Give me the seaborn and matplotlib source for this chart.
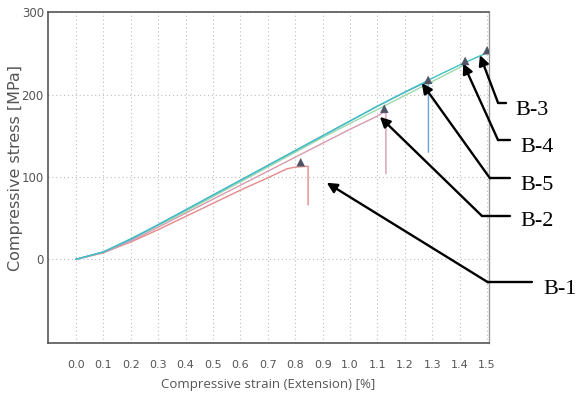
import numpy as np
import pandas as pd
import matplotlib
matplotlib.use("Agg")
import matplotlib.pyplot as plt
from matplotlib.lines import Line2D
import seaborn as sns

# ---------------- data ----------------
specimens = ["B-1", "B-2", "B-5", "B-4", "B-3"]

strain_b1 = [0.0, 0.1, 0.2, 0.3, 0.4, 0.5, 0.6, 0.7, 0.77, 0.80, 0.847, 0.847]
stress_b1 = [0, 8, 21, 36, 52, 68, 84, 99, 110, 112, 113, 66]

strain_b2 = [0.0, 0.1, 0.2, 0.3, 0.4, 0.5, 0.6, 0.7, 0.8, 0.9, 1.0, 1.1, 1.12, 1.131, 1.131]
stress_b2 = [0, 8, 22, 39, 56, 73, 90, 107, 124, 141, 158, 174, 178, 178, 104]

strain_b5 = [0.0, 0.1, 0.2, 0.3, 0.4, 0.5, 0.6, 0.7, 0.8, 0.9, 1.0, 1.1, 1.2, 1.283, 1.286, 1.286]
stress_b5 = [0, 9, 24, 42, 60, 78, 96, 114, 132, 150, 168, 186, 203, 216, 216, 130]

strain_b4 = [0.0, 0.1, 0.2, 0.3, 0.4, 0.5, 0.6, 0.7, 0.8, 0.9, 1.0, 1.1, 1.2, 1.3, 1.4, 1.42]
stress_b4 = [0, 9, 24, 41, 58, 76, 94, 112, 130, 148, 165, 182, 199, 216, 233, 237]

strain_b3 = [0.0, 0.1, 0.2, 0.3, 0.4, 0.5, 0.6, 0.7, 0.8, 0.9, 1.0, 1.1, 1.2, 1.3, 1.4, 1.5]
stress_b3 = [0, 9, 25, 42, 60, 78, 96, 114, 132, 150, 168, 186, 203, 220, 236, 251]

fail_strain = [0.82, 1.125, 1.285, 1.42, 1.50]
fail_stress = [118, 183, 218, 241, 254]

# arrow tips (data coords) for the specimen labels
tip_strain = [0.915, 1.109, 1.262, 1.413, 1.474]
tip_stress = [93, 173, 214, 238, 248]

x_ticks = [0.0, 0.1, 0.2, 0.3, 0.4, 0.5, 0.6, 0.7, 0.8, 0.9, 1.0, 1.1, 1.2, 1.3, 1.4, 1.5]
x_ticklabels = ["0.0", "0.1", "0.2", "0.3", "0.4", "0.5", "0.6", "0.7", "0.8",
                "0.9", "1.0", "1.1", "1.2", "1.3", "1.4", "1.5"]
y_ticks = [0, 100, 200, 300]
y_ticklabels = ["0", "100", "200", "300"]

# ---------------- frame ----------------
rows = []
for name, xs, ys in [("B-1", strain_b1, stress_b1), ("B-2", strain_b2, stress_b2),
                     ("B-4", strain_b4, stress_b4), ("B-5", strain_b5, stress_b5),
                     ("B-3", strain_b3, stress_b3)]:
    for i, (x, y) in enumerate(zip(xs, ys)):
        rows.append({"specimen": name, "order": i, "strain": x, "stress": y})
df = pd.DataFrame(rows)
fail_df = pd.DataFrame({"specimen": specimens, "strain": fail_strain, "stress": fail_stress})

palette = {"B-1": "#e58a8a", "B-2": "#d79aae", "B-5": "#6f9fd6",
           "B-4": "#9ed8ae", "B-3": "#3fc2c2"}

sns.set_style("white")
plt.rcParams["font.family"] = ["DejaVu Sans"]

W, H = 577, 399
fig = plt.figure(figsize=(W / 100, H / 100), dpi=100)
ax = fig.add_axes([48 / W, 1 - 343.3 / H, (489 - 48) / W, (343.3 - 12.3) / H])

sns.lineplot(data=df, x="strain", y="stress", hue="specimen", units="specimen",
             estimator=None, sort=False, palette=palette, lw=1.0, legend=False, ax=ax)
sns.scatterplot(data=fail_df, x="strain", y="stress", marker="^", s=38,
                color="#4f5566", edgecolor="none", legend=False, ax=ax, zorder=5)

ax.set_xlim(-0.102, 1.507)
ax.set_ylim(-102, 300)

ax.set_xticks(x_ticks)
ax.set_xticklabels(x_ticklabels)
ax.set_xticks(np.arange(-0.1, 1.55, 0.05), minor=True)
ax.set_yticks(y_ticks)
ax.set_yticklabels(y_ticklabels)
ax.set_yticks([-100, -50, 50, 150, 250], minor=True)

ax.tick_params(axis="both", which="both", direction="inout", length=6, width=1,
               color="#555555", labelcolor="#555555", labelsize=8)
ax.tick_params(axis="y", labelsize=8.5, pad=0)
ax.tick_params(axis="x", pad=9)

ax.grid(True, which="major", color="#bdbdbd", lw=0.8, linestyle=(0, (1, 2.5)))
ax.set_axisbelow(True)

for side in ["left", "bottom", "top"]:
    ax.spines[side].set_color("#555555")
    ax.spines[side].set_linewidth(1.2)
ax.spines["right"].set_color("#999999")
ax.spines["right"].set_linewidth(1.0)

ax.set_xlabel("Compressive strain (Extension) [%]", color="#555555", fontsize=9.5,
              family="Open Sans", labelpad=6)
ax.set_ylabel("Compressive stress [MPa]", color="#555555", fontsize=11.5)
ax.yaxis.set_label_coords((23 - 48) / 441, 0.53)

# ---------------- labels with arrows ----------------
label_names = ["B-1", "B-2", "B-5", "B-4", "B-3"]
leader_x0 = [488, 482, 490, 498, 498]
leader_x1 = [532, 510, 510, 510, 506]
leader_y = [282.3, 216, 178.3, 140, 102.7]
text_x = [543, 520, 520, 520, 515]
text_y = [289, 222, 186, 147.5, 110.5]

for i, name in enumerate(label_names):
    fy = H - leader_y[i]
    fig.add_artist(Line2D([leader_x0[i] / W, leader_x1[i] / W], [fy / H, fy / H],
                          transform=fig.transFigure, color="black", lw=1.7))
    ax.annotate("", xy=(tip_strain[i], tip_stress[i]), xycoords="data",
                xytext=(leader_x0[i], fy), textcoords="figure pixels",
                arrowprops=dict(arrowstyle="-|>", color="black", lw=1.7,
                                mutation_scale=15, shrinkA=0, shrinkB=0),
                annotation_clip=False)
    fig.text(text_x[i] / W, 1 - text_y[i] / H, name, family="Liberation Serif",
             fontsize=16, ha="left", va="center", color="black")

fig.savefig("out.png", dpi=100)
